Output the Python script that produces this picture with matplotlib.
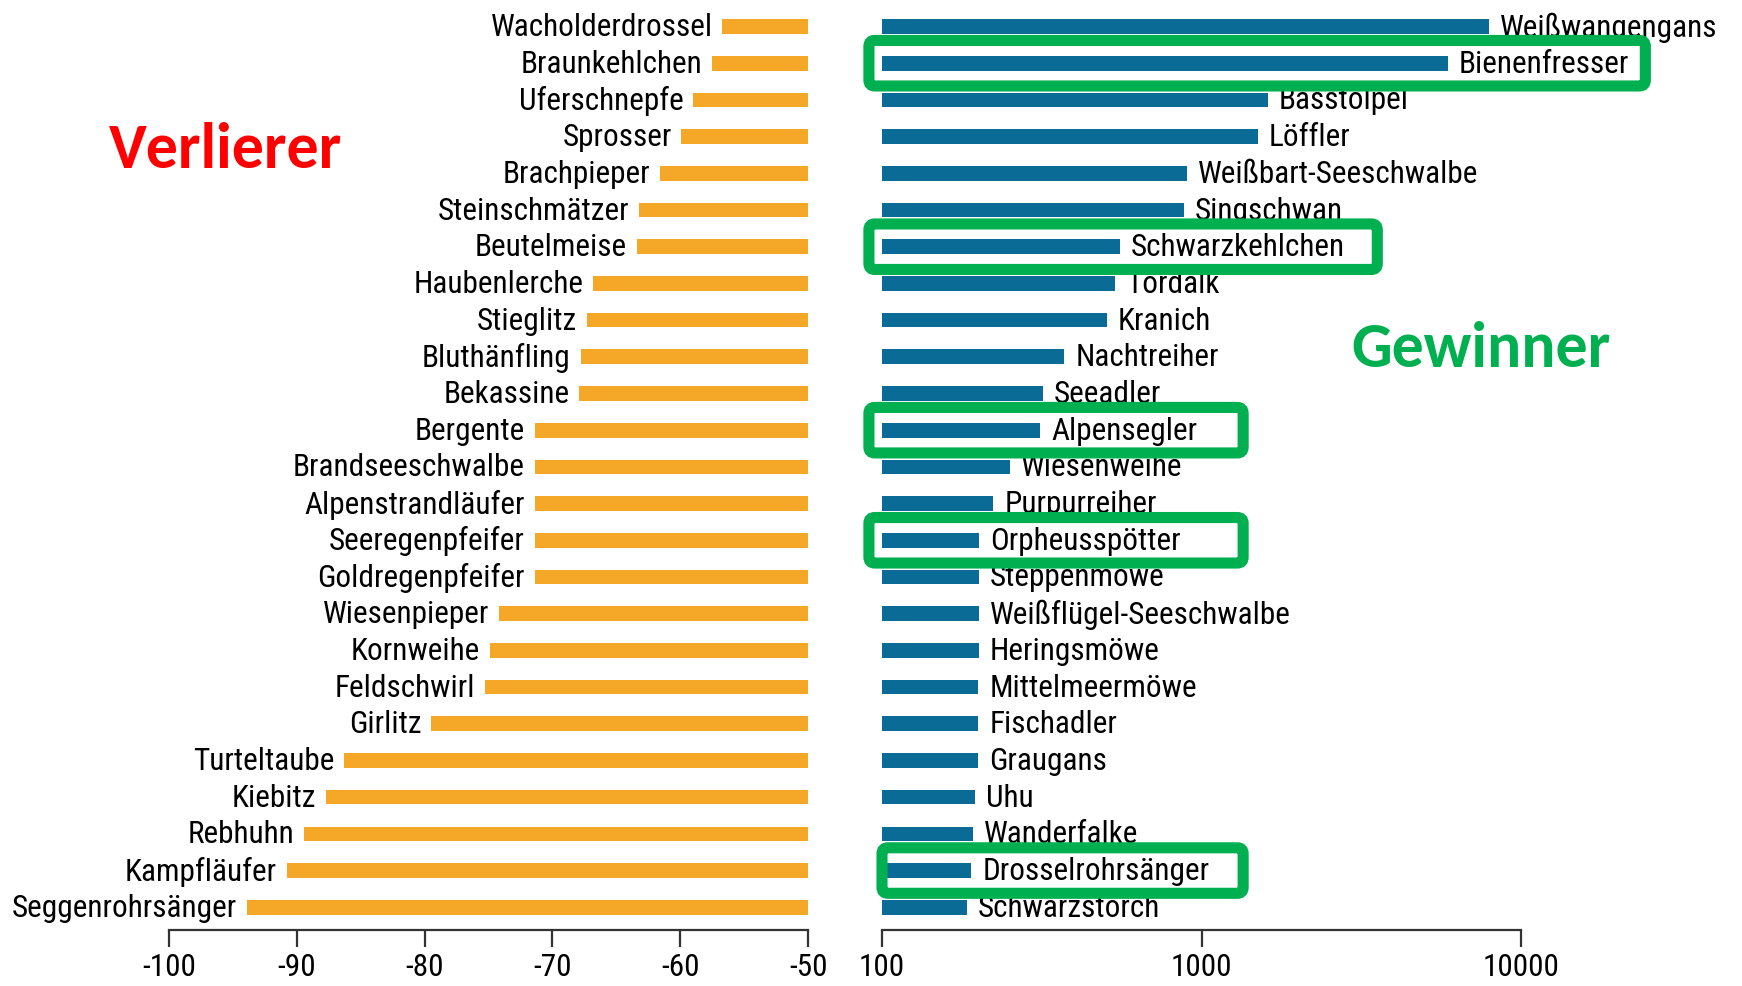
import numpy as np
import matplotlib.pyplot as plt
from matplotlib.patches import FancyBboxPatch
from matplotlib.transforms import IdentityTransform

# losers: change in percent (bars run from value to -50)
loser_names = ['Wacholderdrossel', 'Braunkehlchen', 'Uferschnepfe', 'Sprosser', 'Brachpieper',
               'Steinschmätzer', 'Beutelmeise', 'Haubenlerche', 'Stieglitz', 'Bluthänfling',
               'Bekassine', 'Bergente', 'Brandseeschwalbe', 'Alpenstrandläufer', 'Seeregenpfeifer',
               'Goldregenpfeifer', 'Wiesenpieper', 'Kornweihe', 'Feldschwirl', 'Girlitz',
               'Turteltaube', 'Kiebitz', 'Rebhuhn', 'Kampfläufer', 'Seggenrohrsänger']
loser_values = [-56.7, -57.5, -59.0, -59.9, -61.6, -63.2, -63.4, -66.8, -67.3, -67.8,
                -67.9, -71.4, -71.4, -71.4, -71.4, -71.4, -74.2, -74.9, -75.3, -79.5,
                -86.3, -87.7, -89.4, -90.8, -93.9]

# winners: index (bars start at 100, log scale)
winner_names = ['Weißwangengans', 'Bienenfresser', 'Basstölpel', 'Löffler', 'Weißbart-Seeschwalbe',
                'Singschwan', 'Schwarzkehlchen', 'Tordalk', 'Kranich', 'Nachtreiher',
                'Seeadler', 'Alpensegler', 'Wiesenweihe', 'Purpurreiher', 'Orpheusspötter',
                'Steppenmöwe', 'Weißflügel-Seeschwalbe', 'Heringsmöwe', 'Mittelmeermöwe', 'Fischadler',
                'Graugans', 'Uhu', 'Wanderfalke', 'Drosselrohrsänger', 'Schwarzstorch']
winner_values = [7950, 5890, 1615, 1500, 900, 880, 554, 535, 506, 372,
                 318, 312, 252, 223, 201, 201, 201, 201, 200, 200,
                 200, 196, 193, 190, 184]

# highlighted winners and right end of their frame (data units)
highlight = {'Bienenfresser': 24500, 'Schwarzkehlchen': 3550, 'Alpensegler': 1350,
             'Orpheusspötter': 1350, 'Drosselrohrsänger': 1350}

left_ticks = [-100, -90, -80, -70, -60, -50]
right_ticks = [100, 1000, 10000]

orange = '#F5A727'
blue = '#0B6B97'
green = '#00B050'
font = ['Roboto Condensed', 'Sofia Sans Condensed', 'Barlow Semi Condensed', 'DejaVu Sans']
title_font = ['Carlito', 'Lato', 'DejaVu Sans']
plt.rcParams['font.family'] = font

W, H = 1742, 987
fig = plt.figure(figsize=(W / 100, H / 100), dpi=100)
bottom = (H - 931) / H
height = (931 - 5.5) / H
axl = fig.add_axes([169 / W, bottom, 639 / W, height])
axr = fig.add_axes([882 / W, bottom, 639 / W, height])

n = len(loser_names)
y = np.arange(n)
bh = 0.40
fs = 22.5

# left panel
axl.barh(y, np.array(loser_values) + 50, left=-50, height=bh, color=orange, zorder=2)
for yi, name, v in zip(y, loser_names, loser_values):
    axl.annotate(name, (v, yi), xytext=(-7, 0), textcoords='offset points',
                 ha='right', va='center', fontsize=fs, annotation_clip=False)
axl.set_xlim(-100, -50)
axl.set_xticks(left_ticks)
axl.set_xticklabels([str(t) for t in left_ticks])

# right panel
wv = np.array(winner_values)
axr.barh(y, wv - 100, left=100, height=bh, color=blue, zorder=2)
axr.set_xscale('log')
axr.set_xlim(100, 10000)
for yi, name, v in zip(y, winner_names, winner_values):
    axr.annotate(name, (v, yi), xytext=(8, 0), textcoords='offset points',
                 ha='left', va='center', fontsize=fs, annotation_clip=False)
axr.set_xticks(right_ticks)
axr.set_xticklabels([str(t) for t in right_ticks])
axr.minorticks_off()

for ax in (axl, axr):
    ax.set_ylim(n - 1 + 0.62, -0.6)
    ax.set_yticks([])
    for s in ('top', 'right', 'left'):
        ax.spines[s].set_visible(False)
    ax.spines['bottom'].set_color('#333333')
    ax.spines['bottom'].set_linewidth(1.6)
    ax.tick_params(axis='x', direction='out', length=12, width=1.6, color='#333333',
                   labelsize=fs, pad=4)

# green frames around highlighted winners
fig.canvas.draw()
for name, right in highlight.items():
    i = winner_names.index(name)
    x0 = 91 if name != 'Drosselrohrsänger' else 100
    (px0, py0), (px1, py1) = axr.transData.transform([(x0, i + 0.62), (right, i - 0.62)])
    box = FancyBboxPatch((px0, py0), px1 - px0, py1 - py0,
                         boxstyle='round,pad=0,rounding_size=6',
                         transform=IdentityTransform(), fill=False,
                         edgecolor=green, linewidth=8, zorder=5)
    fig.patches.append(box)

fig.text(226 / W, 1 - 150 / H, 'Verlierer', color='#FF0000', fontsize=46,
         fontweight='bold', ha='center', va='center', family=title_font)
fig.text(1481 / W, 1 - 349 / H, 'Gewinner', color=green, fontsize=46,
         fontweight='bold', ha='center', va='center', family=title_font)

fig.savefig('out.png', dpi=100)
